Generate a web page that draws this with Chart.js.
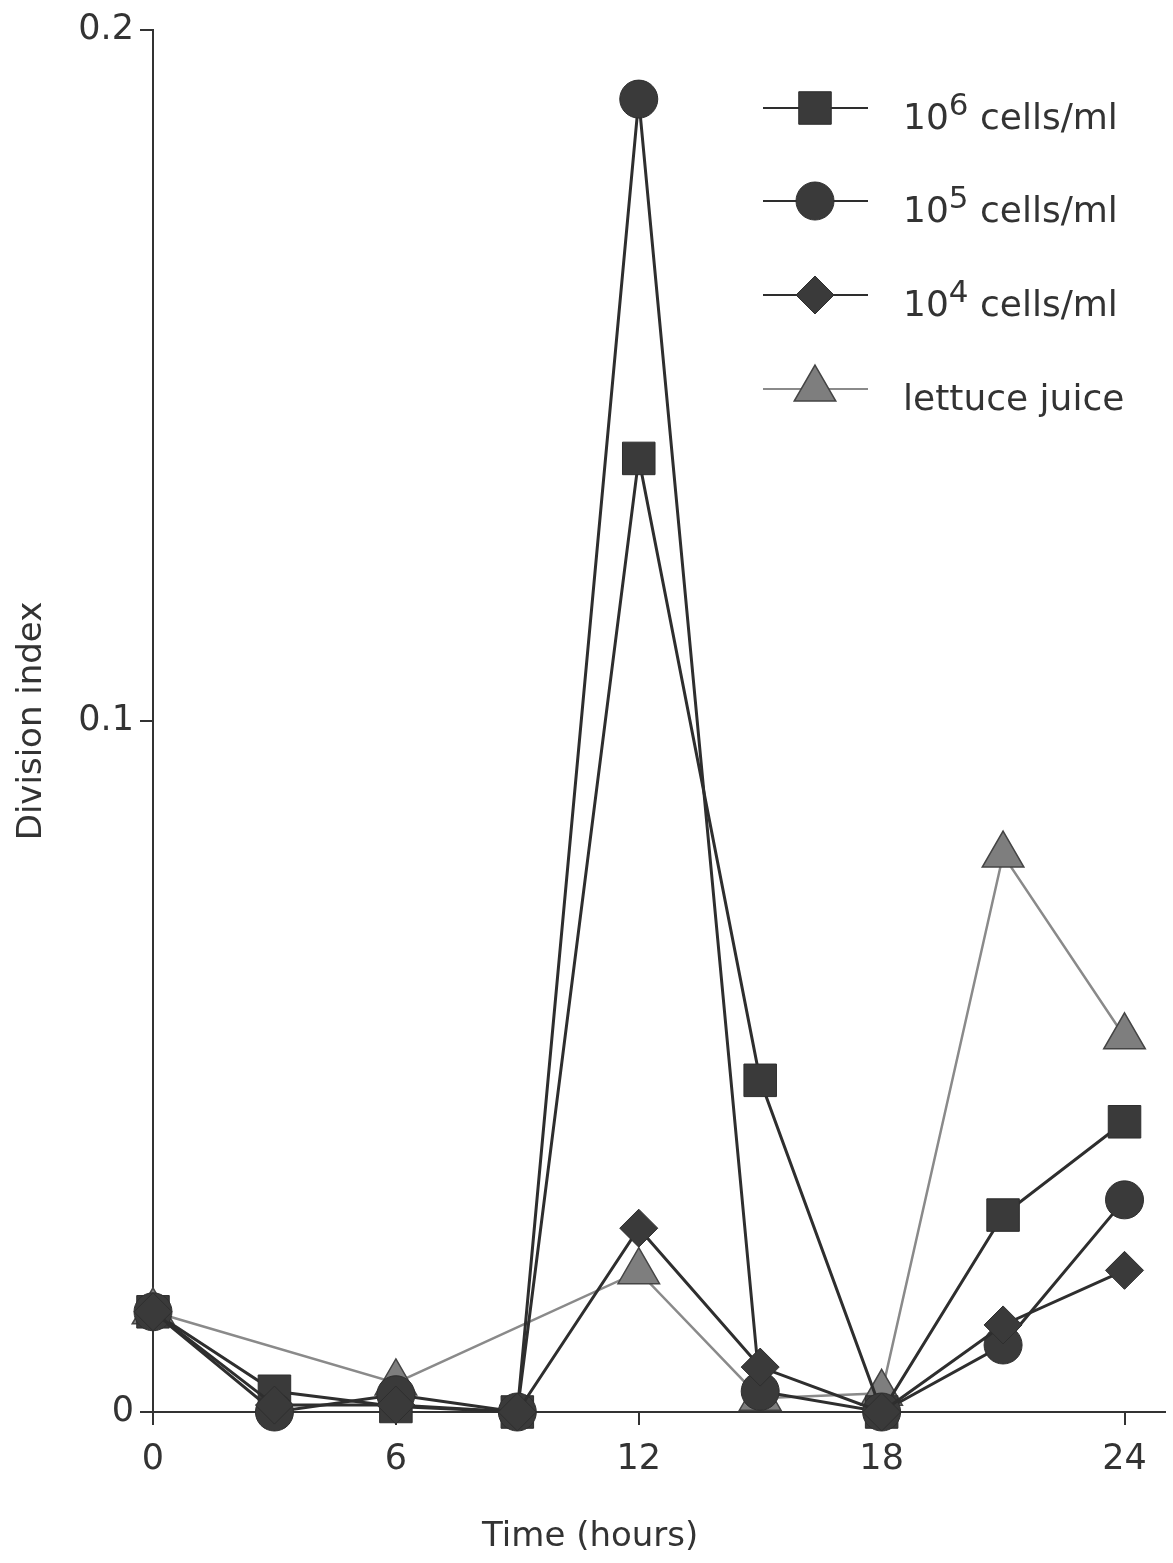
<!DOCTYPE html>
<html>
<head>
<meta charset="utf-8">
<script src="https://cdn.jsdelivr.net/npm/chart.js@4"></script>
<style>
  html, body { margin: 0; padding: 0; background: #fff; overflow: hidden; }
  canvas { display: block; }
</style>
</head>
<body>
<canvas id="chart" width="1173" height="1563"></canvas>
<script>
// values
const timeHours = [0, 3, 6, 9, 12, 15, 18, 21, 24];
const cells1e6 = [0.0145, 0.003, 0.0008, 0, 0.138, 0.048, 0, 0.0285, 0.042];
const cells1e5 = [0.0145, 0, 0.0025, 0, 0.190, 0.003, 0, 0.0097, 0.0307];
const cells1e4 = [0.0145, 0.001, 0.001, 0, 0.0266, 0.0065, 0, 0.0126, 0.0205];
const lettuceJuice = [0.0145, null, 0.0042, null, 0.0203, 0.002, 0.0027, 0.0806, 0.0543];

const seriesNames = ['10^6 cells/ml', '10^5 cells/ml', '10^4 cells/ml', 'lettuce juice'];
const xTicks = [0, 6, 12, 18, 24];
const yTicks = [0, 0.1, 0.2];
const xTitle = 'Time (hours)';
const yTitle = 'Division index';

const FONT = '"DejaVu Sans", sans-serif';
const INK = '#333333';
const DARK = '#2e2e2e';
const GREY_LINE = '#8a8a8a';

function points(values) {
    return timeHours.map((t, i) => ({ x: t, y: values[i] })).filter(p => p.y !== null);
}

const datasets = [
    { label: seriesNames[0], data: points(cells1e6), pointStyle: 'rect', pointRadius: 23,
      borderColor: DARK, backgroundColor: '#3a3a3a', borderWidth: 3, pointBorderWidth: 1, order: 2 },
    { label: seriesNames[1], data: points(cells1e5), pointStyle: 'circle', pointRadius: 19,
      borderColor: DARK, backgroundColor: '#3a3a3a', borderWidth: 3, pointBorderWidth: 1, order: 1 },
    { label: seriesNames[2], data: points(cells1e4), pointStyle: 'rectRot', pointRadius: 19,
      borderColor: DARK, backgroundColor: '#3a3a3a', borderWidth: 3, pointBorderWidth: 1, order: 0 },
    { label: seriesNames[3], data: points(lettuceJuice), pointStyle: 'triangle', pointRadius: 24,
      borderColor: GREY_LINE, backgroundColor: '#7e7e7e', borderWidth: 2.5,
      pointBorderColor: '#444', pointBorderWidth: 1.5, order: 3 }
];
datasets.forEach(ds => { ds.clip = false; });

// legend drawn inside the plot, line - marker - line like the original
const legendPlugin = {
    id: 'insideLegend',
    afterDatasetsDraw(chart) {
        const ctx = chart.ctx;
        const rows = [108, 201, 295, 389];
        chart.data.datasets.forEach((ds, i) => {
            const y = rows[i];
            ctx.save();
            ctx.strokeStyle = ds.borderColor;
            ctx.lineWidth = 2;
            ctx.beginPath();
            ctx.moveTo(763, y);
            ctx.lineTo(868, y);
            ctx.stroke();
            ctx.fillStyle = ds.backgroundColor;
            ctx.strokeStyle = ds.pointBorderColor || ds.borderColor;
            ctx.lineWidth = ds.pointBorderWidth;
            Chart.helpers.drawPoint(ctx, {
                pointStyle: ds.pointStyle,
                radius: ds.pointRadius,
                rotation: 0,
                borderWidth: ds.pointBorderWidth
            }, 815, y);

            ctx.fillStyle = INK;
            ctx.textBaseline = 'middle';
            ctx.textAlign = 'left';
            let x = 903;
            const ty = y + 12;
            const parts = ds.label.split('^');
            ctx.font = '36px ' + FONT;
            if (parts.length === 2) {
                ctx.fillText(parts[0], x, ty);
                x += ctx.measureText(parts[0]).width;
                const sup = parts[1].split(' ')[0];
                const rest = parts[1].slice(sup.length);
                ctx.font = '31px ' + FONT;
                ctx.fillText(sup, x, ty - 13);
                x += ctx.measureText(sup).width;
                ctx.font = '36px ' + FONT;
                ctx.fillText(rest, x, ty);
            } else {
                ctx.fillText(ds.label, x, ty);
            }
            ctx.restore();
        });
    }
};

// x title sits a little left of the axis centre in the original
const xTitlePlugin = {
    id: 'xTitle',
    afterDraw(chart) {
        const ctx = chart.ctx;
        const xs = chart.scales.x;
        ctx.save();
        ctx.font = '34px ' + FONT;
        ctx.fillStyle = INK;
        ctx.textAlign = 'center';
        ctx.textBaseline = 'middle';
        ctx.fillText(xTitle, xs.getPixelForValue(10.8), 1537);
        ctx.restore();
    }
};

new Chart(document.getElementById('chart'), {
    type: 'line',
    data: { datasets: datasets },
    plugins: [legendPlugin, xTitlePlugin],
    options: {
        responsive: false,
        animation: false,
        layout: { autoPadding: false, padding: { top: 30, right: 8, left: 0, bottom: 0 } },
        plugins: { legend: { display: false }, tooltip: { enabled: false } },
        elements: { line: { tension: 0 } },
        scales: {
            x: {
                type: 'linear',
                min: 0,
                max: 25,
                afterBuildTicks: s => { s.ticks = xTicks.map(v => ({ value: v })); },
                afterFit: s => { s.height = 151; s.paddingLeft = 0; s.paddingRight = 0; },
                border: { display: true, color: INK, width: 2 },
                grid: { drawOnChartArea: false, drawTicks: true, tickLength: 13, color: INK, lineWidth: 2 },
                ticks: { color: INK, font: { family: FONT, size: 35 }, padding: 14, maxRotation: 0 }
            },
            y: {
                type: 'linear',
                min: 0,
                max: 0.2,
                afterBuildTicks: s => { s.ticks = yTicks.map(v => ({ value: v })); },
                afterFit: s => { s.width = 153; s.paddingTop = 0; s.paddingBottom = 0; },
                border: { display: true, color: INK, width: 2 },
                grid: { drawOnChartArea: false, drawTicks: true, tickLength: 13, color: INK, lineWidth: 2 },
                ticks: { color: INK, font: { family: FONT, size: 35 }, padding: 6 },
                title: { display: true, text: yTitle, color: INK, font: { family: FONT, size: 34 }, padding: { top: 12 } }
            }
        }
    }
});
</script>
</body>
</html>
